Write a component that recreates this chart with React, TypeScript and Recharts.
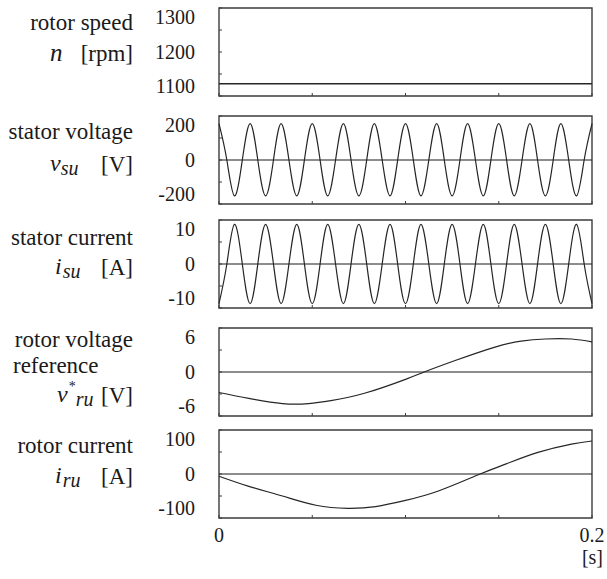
import { LineChart, Line, XAxis, YAxis, ReferenceLine, ReferenceArea } from 'recharts'

// time axis (s)
const timeTicks = [0, 0.05, 0.1, 0.15, 0.2]

// rotor speed n [rpm]
const speedTime = [0, 0.2]
const speedRpm = [1128, 1128]
const speedTicks = [1100, 1150, 1200, 1250, 1300]

// stator quantities, read at peaks and zero crossings (60 Hz)
const statorTime = [
  0, 0.0042, 0.0083, 0.0125, 0.0167, 0.0208, 0.025, 0.0292, 0.0333, 0.0375, 0.0417, 0.0458,
  0.05, 0.0542, 0.0583, 0.0625, 0.0667, 0.0708, 0.075, 0.0792, 0.0833, 0.0875, 0.0917, 0.0958,
  0.1, 0.1042, 0.1083, 0.1125, 0.1167, 0.1208, 0.125, 0.1292, 0.1333, 0.1375, 0.1417, 0.1458,
  0.15, 0.1542, 0.1583, 0.1625, 0.1667, 0.1708, 0.175, 0.1792, 0.1833, 0.1875, 0.1917, 0.1958,
  0.2,
]
const statorVoltage = [
  165, 0, -163, 0, 165, 0, -163, 0, 165, 0, -163, 0,
  165, 0, -163, 0, 165, 0, -163, 0, 165, 0, -163, 0,
  165, 0, -163, 0, 165, 0, -163, 0, 165, 0, -163, 0,
  165, 0, -163, 0, 165, 0, -163, 0, 165, 0, -163, 0,
  165,
]
const statorCurrent = [
  -9, 0, 9, 0, -9, 0, 9, 0, -9, 0, 9, 0,
  -9, 0, 9, 0, -9, 0, 9, 0, -9, 0, 9, 0,
  -9, 0, 9, 0, -9, 0, 9, 0, -9, 0, 9, 0,
  -9, 0, 9, 0, -9, 0, 9, 0, -9, 0, 9, 0,
  -9,
]
const voltageTicks = [-200, -100, 0, 100, 200]
const currentTicks = [-10, -5, 0, 5, 10]

// rotor voltage reference v*ru [V]
const rotorVoltageTime = [0, 0.016, 0.034, 0.048, 0.06, 0.078, 0.1, 0.11, 0.127, 0.148, 0.162, 0.175, 0.189, 0.2]
const rotorVoltageRef = [-2.8, -3.6, -4.3, -4.3, -3.9, -2.9, -1.0, 0, 1.6, 3.4, 4.2, 4.5, 4.5, 4.1]
const rotorVoltageTicks = [-6, -3, 0, 3, 6]

// rotor current iru [A]
const rotorCurrentTime = [0, 0.016, 0.034, 0.052, 0.069, 0.084, 0.1, 0.118, 0.14, 0.154, 0.171, 0.189, 0.2]
const rotorCurrent = [-5, -28, -50, -71, -78, -74, -60, -38, 0, 23, 49, 68, 75]
const rotorCurrentTicks = [-100, -50, 0, 50, 100]

const W = 607
const H = 579
const PLOT_LEFT = 219
const PLOT_RIGHT = 592
const PLOT_H = 88
const PAD = 14
const FONT = 'Liberation Serif, DejaVu Serif, Times New Roman, serif'
const INK = '#1a1a1a'
const FRAME = '#3c3c3c'

const zip = (ts: number[], vs: number[]) => ts.map((t, i) => ({ t, v: vs[i] }))

const serif = { fontFamily: FONT }

function ValueTick(props: any) {
  const { x, y, payload, index } = props
  const mid = PAD + PLOT_H / 2
  const labelY = mid + (y - mid) * 0.78
  return (
    <g>
      <line x1={x} x2={x + 3} y1={y} y2={y} stroke={FRAME} strokeWidth={1} />
      {index % 2 === 0 && (
        <text x={x - 24} y={labelY} dy="0.34em" textAnchor="end" style={serif} fontSize={20} fill={INK}>
          {payload.value}
        </text>
      )}
    </g>
  )
}

function TimeTick(props: any) {
  const { x, y, payload, showLabel } = props
  const v = payload.value
  return (
    <g>
      <line x1={x} x2={x} y1={y} y2={y - 3} stroke={FRAME} strokeWidth={1} />
      {showLabel && (v === 0 || v === 0.2) && (
        <text x={x} y={y + 24} textAnchor="middle" style={serif} fontSize={20} fill={INK}>
          {v}
        </text>
      )}
      {showLabel && v === 0.2 && (
        <text x={x + 11} y={y + 46} textAnchor="end" style={serif} fontSize={20} fill={INK}>
          [s]
        </text>
      )}
    </g>
  )
}

interface PanelProps {
  top: number
  data: { t: number; v: number }[]
  ticks: number[]
  zero?: boolean
  last?: boolean
  strokeWidth?: number
}

function Panel({ top, data, ticks, zero = true, last = false, strokeWidth = 1.2 }: PanelProps) {
  const bottomH = last ? 62 : PAD
  const domain: [number, number] = [ticks[0], ticks[ticks.length - 1]]
  return (
    <div style={{ position: 'absolute', left: 0, top: top - PAD }}>
      <LineChart
        width={W}
        height={PAD + PLOT_H + bottomH}
        data={data}
        margin={{ top: PAD, right: W - PLOT_RIGHT, bottom: 0, left: 0 }}
        style={{ overflow: 'visible' }}
      >
        <XAxis
          dataKey="t"
          type="number"
          domain={[0, 0.2]}
          ticks={timeTicks}
          interval={0}
          height={bottomH}
          axisLine={false}
          tickLine={false}
          tickSize={0}
          tickMargin={0}
          tick={(p: any) => <TimeTick {...p} showLabel={last} />}
        />
        <YAxis
          type="number"
          domain={domain}
          ticks={ticks}
          interval={0}
          width={PLOT_LEFT}
          axisLine={false}
          tickLine={false}
          tickSize={0}
          tickMargin={0}
          allowDataOverflow
          tick={(p: any) => <ValueTick {...p} />}
        />
        <ReferenceArea x1={0} x2={0.2} y1={domain[0]} y2={domain[1]} fill="none" stroke={FRAME} strokeWidth={1.4} />
        {zero && <ReferenceLine y={0} stroke={INK} strokeWidth={1} />}
        <Line
          type="natural"
          dataKey="v"
          stroke="#262626"
          strokeWidth={strokeWidth}
          dot={false}
          isAnimationActive={false}
        />
      </LineChart>
    </div>
  )
}

function SideLabels() {
  const R = 133
  return (
    <svg width={W} height={H} style={{ position: 'absolute', left: 0, top: 0, pointerEvents: 'none', fontFamily: FONT }}>
      <g fill={INK} fontSize={23} style={serif}>
        <text x={R} y={30} textAnchor="end">rotor speed</text>
        <text x={R} y={61} textAnchor="end">[rpm]</text>
        <text x={R} y={139} textAnchor="end">stator voltage</text>
        <text x={R} y={172} textAnchor="end">[V]</text>
        <text x={R} y={245} textAnchor="end">stator current</text>
        <text x={R} y={275} textAnchor="end">[A]</text>
        <text x={R} y={347} textAnchor="end">rotor voltage</text>
        <text x={13} y={373}>reference</text>
        <text x={R} y={403} textAnchor="end">[V]</text>
        <text x={R} y={453} textAnchor="end">rotor current</text>
        <text x={R} y={484} textAnchor="end">[A]</text>
      </g>
      <g fill={INK} fontStyle="italic" style={serif}>
        <text x={50} y={61} fontSize={25}>n</text>
        <text x={50} y={171} fontSize={24}>
          v<tspan fontSize={20} dy={4}>su</tspan>
        </text>
        <text x={55} y={274} fontSize={24}>
          i<tspan fontSize={20} dy={4} dx={1}>su</tspan>
        </text>
        <text x={57} y={402} fontSize={24}>
          v<tspan fontSize={14} fontStyle="normal" dy={-11} dx={1}>*</tspan>
          <tspan fontSize={20} dy={15} dx={0}>ru</tspan>
        </text>
        <text x={55} y={483} fontSize={24}>
          i<tspan fontSize={20} dy={4} dx={1}>ru</tspan>
        </text>
      </g>
    </svg>
  )
}

export default function App() {
  return (
    <div style={{ position: 'absolute', left: 0, top: 0, width: W, height: H, background: '#fff', overflow: 'hidden', fontFamily: FONT }}>
      <Panel top={8} data={zip(speedTime, speedRpm)} ticks={speedTicks} zero={false} strokeWidth={1.6} />
      <Panel top={116} data={zip(statorTime, statorVoltage)} ticks={voltageTicks} />
      <Panel top={220} data={zip(statorTime, statorCurrent)} ticks={currentTicks} />
      <Panel top={328} data={zip(rotorVoltageTime, rotorVoltageRef)} ticks={rotorVoltageTicks} />
      <Panel top={430} data={zip(rotorCurrentTime, rotorCurrent)} ticks={rotorCurrentTicks} last />
      <SideLabels />
    </div>
  )
}
